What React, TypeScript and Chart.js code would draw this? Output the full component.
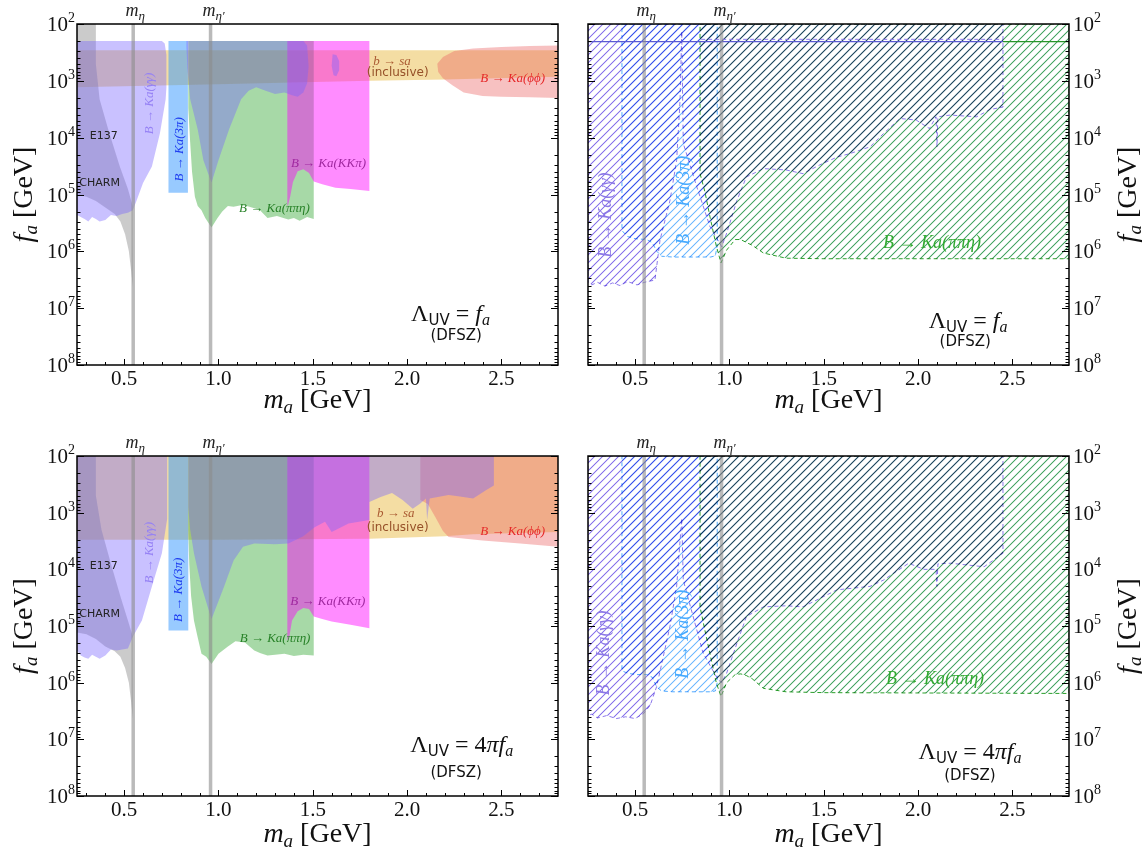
import React, { useEffect, useRef } from 'react';
import { Chart, registerables } from 'chart.js';

type P = [number, number];
type RGBA = [number, number, number, number];

// multiply-compositing for hatched layers (registered before the Filler so it wraps the fill)
const hatchBlend = {
  id: 'hatchBlend',
  beforeDatasetDraw(chart: any, args: any) {
    const ds = chart.data.datasets[args.index];
    if (ds && ds._hatch) { chart.ctx.save(); chart.ctx.globalCompositeOperation = 'multiply'; }
  },
  afterDatasetDraw(chart: any, args: any) {
    const ds = chart.data.datasets[args.index];
    if (ds && ds._hatch) chart.ctx.restore();
  },
};
Chart.register(hatchBlend as any);
Chart.register(...registerables);

// ---------------- axes ----------------
const X_RANGE: P = [0.25, 2.8];
const F_RANGE: P = [1e2, 1e8];
const X_TICKS = [0.5, 1.0, 1.5, 2.0, 2.5];
const X_TICK_LABELS = ['0.5', '1.0', '1.5', '2.0', '2.5'];
const Y_EXPONENTS = [2, 3, 4, 5, 6, 7, 8];
const M_ETA = 0.548;
const M_ETA_PRIME = 0.958;

// ---------------- top-left: Lambda_UV = f_a ----------------
const TL_BEAM_DUMP: P[] = [[0.25,1e2],[0.35,1e2],[0.35,5e2],[0.37,2.1e3],[0.42,8e3],[0.477,3.2e4],[0.52,8e4],[0.545,1.6e5],[0.546,4.2e6],[0.537,2.2e6],[0.525,1e6],[0.505,5e5],[0.48,3e5],[0.45,2.2e5],[0.40,1.7e5],[0.35,1.3e5],[0.30,1.1e5],[0.25,1e5]];
const TL_GAMMA_LOW: P[] = [[0.25,2e2],[0.70,2e2],[0.715,2.2e2],[0.724,3.5e2],[0.724,1.3e3],[0.72,2.1e3],[0.69,8.3e3],[0.647,3.2e4],[0.60,6.3e4],[0.565,1.3e5],[0.546,1.9e5],[0.52,2.1e5],[0.49,2.2e5],[0.46,2.4e5],[0.43,2.3e5],[0.40,2.8e5],[0.37,3e5],[0.35,2.7e5],[0.33,2.5e5],[0.31,3e5],[0.29,2.7e5],[0.27,2.5e5],[0.25,2.3e5]];
const TL_3PI: P[] = [[0.735,2e2],[0.838,2e2],[0.838,9.3e4],[0.735,9.3e4]];
const TL_GAMMA_HIGH: P[] = [[0.83,2e2],[1.45,2e2],[1.47,2.4e2],[1.478,5.6e2],[1.47,1.1e3],[1.45,1.6e3],[1.42,1.9e3],[1.39,1.8e3],[1.35,1.6e3],[1.30,1.7e3],[1.25,1.5e3],[1.20,1.3e3],[1.16,1.5e3],[1.12,2.1e3],[1.056,7.2e3],[1.0,2.5e4],[0.963,6.2e4],[0.92,2.5e4],[0.89,7.2e3],[0.85,2.1e3],[0.835,6e2],[0.83,2.5e2]];
const TL_PIPIETA: P[] = [[0.84,2e2],[1.505,2e2],[1.505,2.7e5],[1.47,2.5e5],[1.43,2.9e5],[1.40,2.6e5],[1.37,2.75e5],[1.31,2.4e5],[1.26,2.6e5],[1.22,1.9e5],[1.19,1.75e5],[1.15,1.6e5],[1.12,1.55e5],[1.08,1.65e5],[1.05,1.6e5],[1.02,2e5],[0.995,2.6e5],[0.963,3.8e5],[0.93,2.6e5],[0.91,1.9e5],[0.89,1.6e5],[0.875,1.1e5],[0.86,4e4],[0.85,1.2e4],[0.84,3e3]];
const TL_KKPI: P[] = [[1.365,2e2],[1.80,2e2],[1.80,8.7e4],[1.75,8.3e4],[1.70,8e4],[1.62,7.6e4],[1.55,6.6e4],[1.505,5.9e4],[1.48,4.2e4],[1.45,3.6e4],[1.42,3.9e4],[1.395,6e4],[1.38,1.1e5],[1.37,1.5e5],[1.365,1.6e5]];
const TL_GAMMA_ISLAND: P[] = [[1.605,3.4e2],[1.625,3.5e2],[1.64,4.5e2],[1.64,6.5e2],[1.625,8.3e2],[1.61,8e2],[1.60,5.5e2]];
const TL_BSA: P[] = [[0.25,2.9e2],[2.8,2.9e2],[2.8,8.5e2],[2.2,9.5e2],[1.8,1e3],[1.0,1.15e3],[0.25,1.3e3]];
const TL_PHIPHI: P[] = [[2.16,5e2],[2.19,3.8e2],[2.25,3e2],[2.35,2.7e2],[2.5,2.55e2],[2.65,2.45e2],[2.8,2.4e2],[2.8,2e3],[2.65,1.95e3],[2.5,1.9e3],[2.4,1.85e3],[2.3,1.6e3],[2.24,1.2e3],[2.19,9e2],[2.165,7e2]];

// ---------------- bottom-left: Lambda_UV = 4 pi f_a ----------------
const BL_BEAM_DUMP: P[] = [[0.25,1e2],[0.35,1e2],[0.35,5e2],[0.38,2e3],[0.43,8e3],[0.48,3e4],[0.52,8e4],[0.545,1.5e5],[0.546,4.3e6],[0.537,2.2e6],[0.525,1e6],[0.505,5.5e5],[0.48,3.5e5],[0.45,2.8e5],[0.40,2.3e5],[0.35,1.7e5],[0.30,1.4e5],[0.25,1.3e5]];
const BL_GAMMA_LOW: P[] = [[0.25,1e2],[0.728,1e2],[0.728,1.3e3],[0.70,5.2e3],[0.647,2e4],[0.594,8e4],[0.546,1.55e5],[0.52,2.5e5],[0.49,2.6e5],[0.46,2.7e5],[0.43,2.6e5],[0.40,3.3e5],[0.37,3.8e5],[0.35,3.5e5],[0.33,3.2e5],[0.31,3.8e5],[0.29,3.6e5],[0.27,3.3e5],[0.25,2.7e5]];
const BL_3PI: P[] = [[0.735,1e2],[0.84,1e2],[0.84,1.2e5],[0.735,1.2e5]];
const BL_GAMMA_HIGH: P[] = [[0.84,1e2],[2.46,1e2],[2.46,3.3e2],[2.42,4e2],[2.35,5.6e2],[2.28,5.2e2],[2.22,4.9e2],[2.12,5.6e2],[2.106,1.35e3],[2.10,5.6e2],[2.07,6.9e2],[2.03,8.5e2],[1.976,6e2],[1.92,4.5e2],[1.86,5.3e2],[1.80,6.5e2],[1.80,1.35e3],[1.69,1.55e3],[1.60,2.2e3],[1.565,1.45e3],[1.51,1.8e3],[1.45,2.6e3],[1.37,3.5e3],[1.30,3.6e3],[1.19,3.5e3],[1.13,4e3],[1.08,7e3],[1.03,2e4],[0.963,7.6e4],[0.91,2e4],[0.87,5.2e3],[0.85,2e3],[0.84,8e2]];
const BL_PIPIETA: P[] = [[0.84,1e2],[1.505,1e2],[1.505,3.3e5],[1.45,3.2e5],[1.40,3.4e5],[1.35,3.1e5],[1.30,3.2e5],[1.26,3.3e5],[1.22,3e5],[1.19,2.7e5],[1.14,1.95e5],[1.09,1.85e5],[1.05,2.3e5],[1.0,3.1e5],[0.963,4.7e5],[0.935,3.5e5],[0.91,3.1e5],[0.89,1.6e5],[0.87,8e4],[0.855,3e4],[0.845,8e3],[0.84,2e3]];
const BL_KKPI: P[] = [[1.365,1e2],[1.80,1e2],[1.80,1.1e5],[1.70,9.5e4],[1.60,8.3e4],[1.55,7.5e4],[1.505,6.8e4],[1.48,5e4],[1.45,4.8e4],[1.42,5.5e4],[1.39,8e4],[1.375,1.6e5],[1.365,1.8e5]];
const BL_BSA: P[] = [[0.25,1e2],[2.8,1e2],[2.8,2.2e3],[2.35,2.4e3],[2.2,2.6e3],[2.0,2.75e3],[1.8,2.9e3],[1.0,3e3],[0.25,3e3]];
const BL_PHIPHI: P[] = [[2.07,1e2],[2.8,1e2],[2.8,4e3],[2.6,3.5e3],[2.4,3.1e3],[2.22,2.7e3],[2.19,2.1e3],[2.15,1.2e3],[2.11,7e2],[2.07,6e2]];

// ---------------- top-right (projections), Lambda_UV = f_a ----------------
const TR_GAMMA: P[] = [[0.25,1e2],[2.45,1e2],[2.45,2.9e3],[2.38,3.2e3],[2.31,4.3e3],[2.17,4e3],[2.105,4.3e3],[2.10,1.45e4],[2.095,4.3e3],[2.06,6.9e3],[1.99,4.9e3],[1.904,4.6e3],[1.816,8.5e3],[1.745,1.45e4],[1.64,1.9e4],[1.57,2.2e4],[1.48,3e4],[1.39,4.3e4],[1.30,3.7e4],[1.18,3.5e4],[1.09,4.9e4],[1.04,1.26e5],[0.985,4.8e5],[0.959,8.3e5],[0.897,3.7e5],[0.826,7.2e4],[0.755,1.26e4],[0.747,1.35e2],[0.738,2.2e3],[0.72,2.5e4],[0.685,1.26e5],[0.632,6.3e5],[0.605,3.2e6],[0.55,3.5e6],[0.51,3.9e6],[0.46,3.4e6],[0.42,4e6],[0.38,3.6e6],[0.34,4.1e6],[0.30,3.5e6],[0.27,3.9e6],[0.25,3.4e6],[0.25,1e2]];
const TR_3PI: P[] = [[0.43,1e2],[0.935,1e2],[0.935,8e5],[0.925,1.2e6],[0.90,1.26e6],[0.70,1.26e6],[0.64,1.22e6],[0.615,1e6],[0.59,7e5],[0.56,6.2e5],[0.50,6e5],[0.46,5.5e5],[0.435,4.5e5],[0.43,3.7e5],[0.43,1e2]];
const TR_PIPIETA: P[] = [[0.844,1e2],[2.8,1e2],[2.8,1.35e6],[2.0,1.35e6],[1.5,1.35e6],[1.30,1.32e6],[1.18,1.07e6],[1.12,7.8e5],[1.09,7e5],[1.06,6.2e5],[1.03,6.2e5],[0.985,9.5e5],[0.955,1.6e6],[0.93,8e5],[0.897,2.5e5],[0.87,9e4],[0.844,4.3e4],[0.844,1e2]];
const TR_TOP_LINE_GAMMA: P[] = [[0.25,2.05e2],[2.45,2.05e2]];
const TR_TOP_LINE_PIPIETA: P[] = [[2.45,2.05e2],[2.8,2.05e2]];
const TR_TOP_DASH: P[] = [[0.85,1.86e2],[2.45,1.86e2]];

// ---------------- bottom-right (projections), Lambda_UV = 4 pi f_a ----------------
const BR_GAMMA: P[] = [[0.25,1e2],[2.45,1e2],[2.45,5.2e3],[2.35,9e3],[2.17,7.8e3],[2.105,8e3],[2.10,2e4],[2.095,1e4],[2.03,1e4],[1.95,7.8e3],[1.816,1.55e4],[1.745,2e4],[1.57,2.3e4],[1.39,4.6e4],[1.30,4.4e4],[1.18,4.6e4],[1.09,6.8e4],[1.04,2e5],[0.985,6.8e5],[0.959,1e6],[0.94,8.9e5],[0.86,3e5],[0.755,1.55e4],[0.747,1.26e3],[0.72,2e4],[0.685,1e5],[0.614,1.17e6],[0.58,2.5e6],[0.545,3.5e6],[0.50,4.3e6],[0.45,4e6],[0.40,4.3e6],[0.35,3.8e6],[0.30,4.2e6],[0.27,3.6e6],[0.25,3.8e6],[0.25,1e2]];
const BR_3PI: P[] = [[0.43,1e2],[0.935,1e2],[0.935,1e6],[0.925,1.4e6],[0.90,1.45e6],[0.70,1.45e6],[0.64,1.4e6],[0.615,1.2e6],[0.59,8e5],[0.56,7.2e5],[0.50,7.2e5],[0.46,6.8e5],[0.435,6.3e5],[0.43,5.9e5],[0.43,1e2]];
const BR_PIPIETA: P[] = [[0.844,1e2],[2.8,1e2],[2.8,1.55e6],[2.0,1.52e6],[1.5,1.5e6],[1.30,1.45e6],[1.18,1.26e6],[1.12,8.5e5],[1.09,7.5e5],[1.06,7e5],[1.03,7.2e5],[0.985,1e6],[0.955,1.75e6],[0.93,1e6],[0.90,3.5e5],[0.87,1.2e5],[0.844,4.6e4],[0.844,1e2]];

// ---------------- styles ----------------
const SERIF = '"Liberation Serif", "DejaVu Serif", serif';
const SANS = '"DejaVu Sans", "Liberation Sans", sans-serif';
const it = (s: number) => `italic ${s}px ${SERIF}`;
const rm = (s: number) => `${s}px ${SERIF}`;
const sans = (s: number) => `${s}px ${SANS}`;

const COL = {
  gray: 'rgba(140,140,140,0.45)',
  purple: 'rgba(120,100,255,0.4)',
  blue: 'rgba(50,150,255,0.5)',
  green: 'rgba(60,170,60,0.45)',
  magenta: 'rgba(255,0,255,0.45)',
  yellow: 'rgba(230,180,50,0.45)',
  pink: 'rgba(235,100,100,0.4)',
  mass: 'rgba(140,140,140,0.6)',
  bPurple: 'rgb(140,120,235)',
  bBlue: 'rgb(80,170,255)',
  bGreen: 'rgb(40,160,40)',
};
const HATCH_PURPLE: RGBA = [135, 115, 235, 255];
const HATCH_BLUE: RGBA = [110, 185, 255, 255];
const HATCH_GREEN: RGBA = [70, 165, 100, 255];

type Seg = { t: string; f: string; dy?: number };
type TextItem = { x: number; f: number; segs: Seg[]; color: string; size: number; align?: 'left' | 'center' | 'right'; rot?: boolean };
type Layer = { pts: P[]; bg?: string; hatch?: RGBA; border?: string; width?: number; dash?: number[]; line?: boolean };
type PanelCfg = { key: string; left: number; top: number; pad: { left: number; top: number; right: number; bottom: number }; side: 'left' | 'right'; xTitleDy: number; layers: Layer[]; texts: TextItem[] };

const decay = (t: string, s: number): Seg[] => [{ t, f: it(s) }];
const lambda = (four: boolean): Seg[] => [
  { t: 'Λ', f: rm(24) },
  { t: 'UV', f: sans(15), dy: 4 },
  { t: four ? ' = 4' : ' = ', f: rm(24) },
  ...(four ? [{ t: 'π', f: it(24) }] : []),
  { t: 'f', f: it(24) },
  { t: 'a', f: it(16), dy: 4 },
];
const DFSZ: Seg[] = [{ t: '(DFSZ)', f: sans(15) }];

const massLines = (): Layer[] => [
  { pts: [[M_ETA, F_RANGE[0]], [M_ETA, F_RANGE[1]]], line: true, border: COL.mass, width: 3.5 },
  { pts: [[M_ETA_PRIME, F_RANGE[0]], [M_ETA_PRIME, F_RANGE[1]]], line: true, border: COL.mass, width: 3.5 },
];

const LABEL_C = {
  gg: 'rgb(150,130,245)', pi3: 'rgb(30,60,240)', kkpi: 'rgb(160,40,160)', ppe: 'rgb(40,130,40)', bsa: 'rgb(170,90,50)', phi: 'rgb(230,40,40)',
  ggR: 'rgb(140,120,230)', pi3R: 'rgb(70,170,255)', ppeR: 'rgb(50,170,50)',
};

const leftTexts = (four: boolean, p: { e137: P; charm: P; gg: P; pi3: P; kk: P; ppe: P; bsa: P; incl: P; phi: P; lam: P; dfsz: P }): TextItem[] => [
  { x: p.e137[0], f: p.e137[1], segs: [{ t: 'E137', f: sans(11) }], color: '#222', size: 11, align: 'left' },
  { x: p.charm[0], f: p.charm[1], segs: [{ t: 'CHARM', f: sans(11) }], color: '#222', size: 11, align: 'left' },
  { x: p.gg[0], f: p.gg[1], segs: decay('B → Ka(γγ)', 13), color: LABEL_C.gg, size: 13, rot: true },
  { x: p.pi3[0], f: p.pi3[1], segs: decay('B → Ka(3π)', 13), color: LABEL_C.pi3, size: 13, rot: true },
  { x: p.kk[0], f: p.kk[1], segs: decay('B → Ka(KKπ)', 13), color: LABEL_C.kkpi, size: 13 },
  { x: p.ppe[0], f: p.ppe[1], segs: decay('B → Ka(ππη)', 13), color: LABEL_C.ppe, size: 13 },
  { x: p.bsa[0], f: p.bsa[1], segs: decay('b → sa', 13), color: LABEL_C.bsa, size: 13 },
  { x: p.incl[0], f: p.incl[1], segs: [{ t: '(inclusive)', f: sans(12) }], color: 'rgb(150,80,40)', size: 12 },
  { x: p.phi[0], f: p.phi[1], segs: decay('B → Ka(ϕϕ)', 13), color: LABEL_C.phi, size: 13 },
  { x: p.lam[0], f: p.lam[1], segs: lambda(four), color: '#111', size: 24 },
  { x: p.dfsz[0], f: p.dfsz[1], segs: DFSZ, color: '#111', size: 15 },
];

const rightTexts = (four: boolean, p: { gg: P; pi3: P; ppe: P; lam: P; dfsz: P }): TextItem[] => [
  { x: p.gg[0], f: p.gg[1], segs: decay('B → Ka(γγ)', 18), color: LABEL_C.ggR, size: 18, rot: true },
  { x: p.pi3[0], f: p.pi3[1], segs: decay('B → Ka(3π)', 18), color: LABEL_C.pi3R, size: 18, rot: true },
  { x: p.ppe[0], f: p.ppe[1], segs: decay('B → Ka(ππη)', 18), color: LABEL_C.ppeR, size: 18 },
  { x: p.lam[0], f: p.lam[1], segs: lambda(four), color: '#111', size: 24 },
  { x: p.dfsz[0], f: p.dfsz[1], segs: DFSZ, color: '#111', size: 15 },
];

const PANELS: PanelCfg[] = [
  {
    key: 'TL', left: 0, top: 0, pad: { left: 77, top: 24, right: 13, bottom: 62 }, side: 'left', xTitleDy: 33,
    layers: [
      { pts: TL_BSA, bg: COL.yellow },
      { pts: TL_PHIPHI, bg: COL.pink },
      { pts: TL_BEAM_DUMP, bg: COL.gray },
      { pts: TL_3PI, bg: COL.blue },
      { pts: TL_PIPIETA, bg: COL.green },
      { pts: TL_KKPI, bg: COL.magenta },
      { pts: TL_GAMMA_LOW, bg: COL.purple },
      { pts: TL_GAMMA_HIGH, bg: COL.purple },
      { pts: TL_GAMMA_ISLAND, bg: COL.purple },
      ...massLines(),
    ],
    texts: leftTexts(false, { e137: [0.318, 8.9e3], charm: [0.262, 6e4], gg: [0.63, 2.5e3], pi3: [0.79, 1.6e4], kk: [1.583, 2.7e4], ppe: [1.297, 1.7e5], bsa: [1.92, 4.3e2], incl: [1.95, 7e2], phi: [2.56, 8.7e2], lam: [2.23, 1.2e7], dfsz: [2.26, 2.9e7] }),
  },
  {
    key: 'TR', left: 571, top: 0, pad: { left: 17, top: 24, right: 73, bottom: 62 }, side: 'right', xTitleDy: 33,
    layers: [
      { pts: TR_PIPIETA, hatch: HATCH_GREEN, border: COL.bGreen, dash: [4, 3] },
      { pts: TR_3PI, hatch: HATCH_BLUE, border: COL.bBlue, dash: [4, 3] },
      { pts: TR_GAMMA, hatch: HATCH_PURPLE, border: COL.bPurple, dash: [4, 3] },
      { pts: TR_TOP_DASH, line: true, border: COL.bPurple, dash: [4, 3], width: 1 },
      { pts: TR_TOP_LINE_PIPIETA, line: true, border: 'rgb(40,150,40)', width: 1.2 },
      { pts: TR_TOP_LINE_GAMMA, line: true, border: 'rgb(90,90,210)', width: 1.2 },
      ...massLines(),
    ],
    texts: rightTexts(false, { gg: [0.34, 2.3e5], pi3: [0.75, 1.26e5], ppe: [2.074, 6.9e5], lam: [2.265, 1.6e7], dfsz: [2.25, 3.8e7] }),
  },
  {
    key: 'BL', left: 0, top: 427, pad: { left: 77, top: 29, right: 13, bottom: 58 }, side: 'left', xTitleDy: 36,
    layers: [
      { pts: BL_BSA, bg: COL.yellow },
      { pts: BL_PHIPHI, bg: COL.pink },
      { pts: BL_BEAM_DUMP, bg: COL.gray },
      { pts: BL_3PI, bg: COL.blue },
      { pts: BL_PIPIETA, bg: COL.green },
      { pts: BL_KKPI, bg: COL.magenta },
      { pts: BL_GAMMA_LOW, bg: COL.purple },
      { pts: BL_GAMMA_HIGH, bg: COL.purple },
      ...massLines(),
    ],
    texts: leftTexts(true, { e137: [0.318, 8.3e3], charm: [0.262, 5.9e4], gg: [0.63, 5.1e3], pi3: [0.78, 2.3e4], kk: [1.58, 3.5e4], ppe: [1.30, 1.6e5], bsa: [1.94, 1e3], incl: [1.95, 1.8e3], phi: [2.56, 2.1e3], lam: [2.29, 1.2e7], dfsz: [2.26, 3.7e7] }),
  },
  {
    key: 'BR', left: 571, top: 427, pad: { left: 17, top: 29, right: 73, bottom: 58 }, side: 'right', xTitleDy: 36,
    layers: [
      { pts: BR_PIPIETA, hatch: HATCH_GREEN, border: COL.bGreen, dash: [4, 3] },
      { pts: BR_3PI, hatch: HATCH_BLUE, border: COL.bBlue, dash: [4, 3] },
      { pts: BR_GAMMA, hatch: HATCH_PURPLE, border: COL.bPurple, dash: [4, 3] },
      ...massLines(),
    ],
    texts: rightTexts(true, { gg: [0.33, 3e5], pi3: [0.747, 1.4e5], ppe: [2.09, 8.3e5], lam: [2.275, 1.6e7], dfsz: [2.275, 4.2e7] }),
  },
];

// ---------------- helpers ----------------
const TILE_KEEP: HTMLCanvasElement[] = [];
function makeHatch(target: CanvasRenderingContext2D, col: RGBA, s: number, dy: number): CanvasPattern {
  const c = document.createElement('canvas');
  c.width = s; c.height = s;
  const g = c.getContext('2d')!;
  const img = g.createImageData(s, s);
  for (let y = 0; y < s; y++) {
    for (let x = 0; x < s; x++) {
      const d = (x + y) % s;
      let a = 0;
      if (d === s - 1) a = 1;
      else if (d === 0 || d === s - 2) a = 0.25;
      const k = (y * s + x) * 4;
      img.data[k] = col[0]; img.data[k + 1] = col[1]; img.data[k + 2] = col[2];
      img.data[k + 3] = Math.round(a * col[3]);
    }
  }
  g.putImageData(img, 0, 0);
  TILE_KEEP.push(c);
  const pat = target.createPattern(c, 'repeat')!;
  // anchor every panel's hatch to the same page phase
  try { pat.setTransform(new DOMMatrix([1, 0, 0, 1, 0, -dy])); } catch (e) { /* ignore */ }
  return pat;
}

function drawRich(ctx: CanvasRenderingContext2D, x: number, y: number, segs: Seg[], align: string, color: string) {
  let w = 0;
  for (const s of segs) { ctx.font = s.f; w += ctx.measureText(s.t).width; }
  let cx = align === 'left' ? x : align === 'right' ? x - w : x - w / 2;
  ctx.fillStyle = color;
  ctx.textAlign = 'left';
  ctx.textBaseline = 'alphabetic';
  for (const s of segs) {
    ctx.font = s.f;
    ctx.fillText(s.t, cx, y + (s.dy ?? 0));
    cx += ctx.measureText(s.t).width;
  }
}

const W = 571, H = 427;

function buildChart(canvas: HTMLCanvasElement, cfg: PanelCfg) {
  const tctx = canvas.getContext('2d')!;
  const n = cfg.layers.length;
  const datasets = cfg.layers.map((L, i) => ({
    data: L.pts.map(([x, y]) => ({ x, y })),
    fill: L.line ? false : 'shape',
    backgroundColor: L.hatch ? makeHatch(tctx, L.hatch, 8, cfg.top) : (L.bg ?? 'rgba(0,0,0,0)'),
    borderColor: L.border ?? 'rgba(0,0,0,0)',
    borderWidth: L.width ?? 1,
    borderDash: L.dash ?? [],
    pointRadius: 0,
    pointHoverRadius: 0,
    tension: 0,
    order: n - i,
    _hatch: !!L.hatch,
  }));

  const decor = {
    id: 'decor',
    afterDraw(chart: any) {
      const ctx: CanvasRenderingContext2D = chart.ctx;
      const a = chart.chartArea;
      const xs = chart.scales.x;
      const ys = chart.scales.y;
      ctx.save();
      ctx.setLineDash([]);
      ctx.strokeStyle = '#000';
      ctx.lineWidth = 1;
      ctx.beginPath();
      for (let i = 3; i <= 27; i++) {
        const v = i / 10;
        const px = Math.round(xs.getPixelForValue(v)) + 0.5;
        const len = i % 5 === 0 ? 6 : 3;
        ctx.moveTo(px, a.bottom); ctx.lineTo(px, a.bottom - len);
      }
      for (let e = 2; e <= 8; e++) {
        for (let m = 1; m <= 9; m++) {
          if (e === 8 && m > 1) break;
          const v = m * Math.pow(10, e);
          const py = Math.round(ys.getPixelForValue(v)) + 0.5;
          const len = m === 1 ? 7 : 3.5;
          ctx.moveTo(a.left, py); ctx.lineTo(a.left + len, py);
          ctx.moveTo(a.right, py); ctx.lineTo(a.right - len, py);
        }
      }
      ctx.stroke();
      ctx.lineWidth = 1.5;
      ctx.strokeRect(a.left, a.top, a.right - a.left, a.bottom - a.top);

      ctx.fillStyle = '#111';
      ctx.font = rm(21);
      ctx.textAlign = 'center';
      ctx.textBaseline = 'top';
      X_TICKS.forEach((v, i) => ctx.fillText(X_TICK_LABELS[i], xs.getPixelForValue(v), a.bottom + 4));

      Y_EXPONENTS.forEach((e) => {
        const py = ys.getPixelForValue(Math.pow(10, e));
        const segs: Seg[] = [{ t: '10', f: rm(21) }, { t: String(e), f: rm(14), dy: -9 }];
        if (cfg.side === 'left') drawRich(ctx, a.left - 2, py + 7, segs, 'right', '#111');
        else drawRich(ctx, a.right + 4, py + 7, segs, 'left', '#111');
      });

      const xt: Seg[] = [{ t: 'm', f: it(28) }, { t: 'a', f: it(19), dy: 5 }, { t: ' [GeV]', f: rm(28) }];
      drawRich(ctx, (a.left + a.right) / 2, a.bottom + cfg.xTitleDy + 10, xt, 'center', '#111');
      const yt: Seg[] = [{ t: 'f', f: it(28) }, { t: 'a', f: it(19), dy: 5 }, { t: ' [GeV]', f: rm(28) }];
      ctx.save();
      ctx.translate(cfg.side === 'left' ? 22 : W - 16, (a.top + a.bottom) / 2);
      ctx.rotate(-Math.PI / 2);
      drawRich(ctx, 0, 10, yt, 'center', '#111');
      ctx.restore();

      const me: Seg[] = [{ t: 'm', f: it(18) }, { t: 'η', f: it(13), dy: 4 }];
      const mp: Seg[] = [{ t: 'm', f: it(18) }, { t: 'η′', f: it(13), dy: 4 }];
      drawRich(ctx, xs.getPixelForValue(M_ETA) + 2, a.top - 8, me, 'center', '#222');
      drawRich(ctx, xs.getPixelForValue(M_ETA_PRIME) + 3, a.top - 8, mp, 'center', '#222');

      for (const T of cfg.texts) {
        const px = xs.getPixelForValue(T.x);
        const py = ys.getPixelForValue(T.f);
        if (T.rot) {
          ctx.save();
          ctx.translate(px, py);
          ctx.rotate(-Math.PI / 2);
          drawRich(ctx, 0, T.size * 0.35, T.segs, 'center', T.color);
          ctx.restore();
        } else {
          drawRich(ctx, px, py + T.size * 0.35, T.segs, T.align ?? 'center', T.color);
        }
      }
      ctx.restore();
    },
  };

  return new Chart(canvas, {
    type: 'line',
    data: { datasets: datasets as any },
    options: {
      responsive: false,
      animation: false,
      events: [],
      layout: { padding: cfg.pad },
      scales: {
        x: { type: 'linear', min: X_RANGE[0], max: X_RANGE[1], display: false },
        y: { type: 'logarithmic', min: F_RANGE[0], max: F_RANGE[1], reverse: true, display: false },
      },
      plugins: { legend: { display: false }, tooltip: { enabled: false } },
    },
    plugins: [decor],
  } as any);
}

function Panel({ cfg }: { cfg: PanelCfg }) {
  const ref = useRef<HTMLCanvasElement>(null);
  useEffect(() => {
    const chart = buildChart(ref.current!, cfg);
    return () => chart.destroy();
  }, [cfg]);
  return (
    <canvas
      ref={ref}
      width={W}
      height={H}
      style={{ position: 'absolute', left: cfg.left, top: cfg.top, width: W, height: H }}
    />
  );
}

export default function App() {
  return (
    <div style={{ position: 'absolute', left: 0, top: 0, width: 1142, height: 854, background: '#fff', overflow: 'hidden' }}>
      {PANELS.map((p) => (
        <Panel key={p.key} cfg={p} />
      ))}
    </div>
  );
}
